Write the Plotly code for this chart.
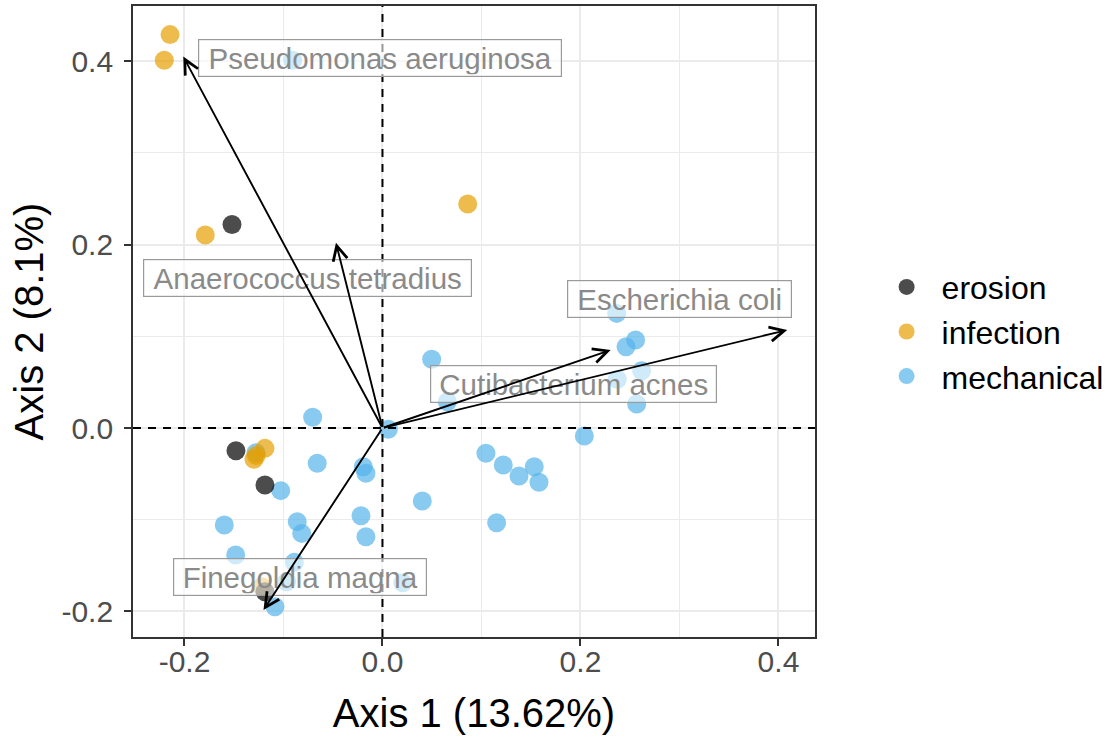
import plotly.graph_objects as go

# ---- data ----
erosion_x = [-0.152, -0.148, -0.1187, -0.1187]
erosion_y = [0.222, -0.0248, -0.0622, -0.1785]

infection_x = [-0.2146, -0.2204, -0.179, 0.0861, -0.1187, -0.1298, -0.1275, -0.1219]
infection_y = [0.429, 0.401, 0.2105, 0.2443, -0.0222, -0.0341, -0.0300, -0.173]

mechanical_x = [-0.0907, -0.0705, 0.0059, -0.1278, -0.0659, -0.0194, -0.0167, -0.1028,
                0.0402, -0.1598, -0.0861, -0.0816, -0.0217, -0.0167, -0.1483, -0.0891,
                -0.0968, 0.0204, -0.1086, 0.0497, 0.0655, 0.2366, 0.2557, 0.246,
                0.2618, 0.2372, 0.2568, 0.2039, 0.1045, 0.122, 0.1379, 0.1533,
                0.1581, 0.1153]
mechanical_y = [0.401, 0.0117, -0.0014, -0.027, -0.0385, -0.0422, -0.0494, -0.0683,
                -0.0796, -0.1058, -0.1021, -0.1149, -0.0956, -0.1185, -0.1385, -0.1465,
                -0.1676, -0.1687, -0.1949, 0.0749, 0.0287, 0.125, 0.096, 0.0887,
                0.0625, 0.0531, 0.0262, -0.0087, -0.0276, -0.0403, -0.0523, -0.0422,
                -0.0592, -0.1033]

taxa = ["Pseudomonas aeruginosa", "Anaerococcus tetradius", "Escherichia coli",
        "Cutibacterium acnes", "Finegoldia magna"]
arrow_x = [-0.2012, -0.047, 0.4089, 0.2305, -0.1202]
arrow_y = [0.405, 0.202, 0.1069, 0.0851, -0.1985]
label_x = [-0.003, -0.0753, 0.3005, 0.1934, -0.0838]
label_y = [0.404, 0.1641, 0.1407, 0.048, -0.1625]
label_w = [365, 330, 226, 288, 255]

x_ticks = [-0.2, 0.0, 0.2, 0.4]
y_ticks = [-0.2, 0.0, 0.2, 0.4]
x_title = "Axis 1 (13.62%)"
y_title = "Axis 2 (8.1%)"

FONT = "Liberation Sans, Arial, sans-serif"

fig = go.Figure()
groups = [
    ("mechanical", mechanical_x, mechanical_y, "#56B4E9", 3),
    ("infection", infection_x, infection_y, "#E69F00", 2),
    ("erosion", erosion_x, erosion_y, "#000000", 1),
]
for name, xs, ys, col, rank in groups:
    fig.add_trace(go.Scatter(
        x=xs, y=ys, mode="markers", name=name, legendrank=rank,
        legendgroup=name,
        marker=dict(color=col, size=19, opacity=0.7, line=dict(width=0)),
    ))

# dashed reference lines
fig.add_hline(y=0, line=dict(color="black", width=2, dash="8px,7px"), layer="above")
fig.add_vline(x=0, line=dict(color="black", width=2, dash="8px,7px"), layer="above")

# labels
for t, lx, ly, w in zip(taxa, label_x, label_y, label_w):
    fig.add_annotation(
        x=lx, y=ly, xref="x", yref="y", text=t, showarrow=False,
        font=dict(family=FONT, size=29.5, color="#8a8a8a"),
        bgcolor="rgba(255,255,255,0.6)", bordercolor="#9a9a9a", borderwidth=1.2,
        borderpad=2, width=w - 7, height=32,
    )

# arrows
for axp, ayp in zip(arrow_x, arrow_y):
    fig.add_annotation(
        x=axp, y=ayp, ax=0, ay=0, xref="x", yref="y", axref="x", ayref="y",
        text="", showarrow=True, arrowhead=5, arrowsize=1.5, arrowwidth=1.9,
        arrowcolor="black", standoff=0, startstandoff=0,
    )

axis_common = dict(
    showline=True, linecolor="#333333", linewidth=1.8, mirror=True,
    ticks="outside", ticklen=7, tickwidth=1.8, tickcolor="#333333",
    tickfont=dict(family=FONT, size=30, color="#4D4D4D"),
    showgrid=True, gridcolor="#EBEBEB", gridwidth=2.2, zeroline=False,
    minor=dict(showgrid=True, gridcolor="#EBEBEB", gridwidth=1.1, dtick=0.1, ticks=""),
)
fig.update_xaxes(
    range=[-0.252, 0.4369], tickvals=x_ticks, ticktext=[f"{v:.1f}" for v in x_ticks],
    ticklabelstandoff=-10,
    title=dict(text=x_title, font=dict(family=FONT, size=40, color="black"), standoff=22),
    **axis_common,
)
fig.update_yaxes(
    range=[-0.2279, 0.4602], tickvals=y_ticks, ticktext=[f"{v:.1f}" for v in y_ticks],
    ticklabelstandoff=5,
    title=dict(text=y_title, font=dict(family=FONT, size=40, color="black"), standoff=5),
    **axis_common,
)

fig.update_layout(
    width=1109, height=737, autosize=False,
    margin=dict(l=133, r=294, t=6, b=100, autoexpand=False),
    plot_bgcolor="white", paper_bgcolor="white",
    font=dict(family=FONT),
    legend=dict(
        x=1.083, y=0.484, xanchor="left", yanchor="middle",
        font=dict(family=FONT, size=32, color="black"),
        bgcolor="rgba(0,0,0,0)", borderwidth=0, tracegroupgap=0, itemwidth=60,
    ),
)

fig.write_html("out.html")
